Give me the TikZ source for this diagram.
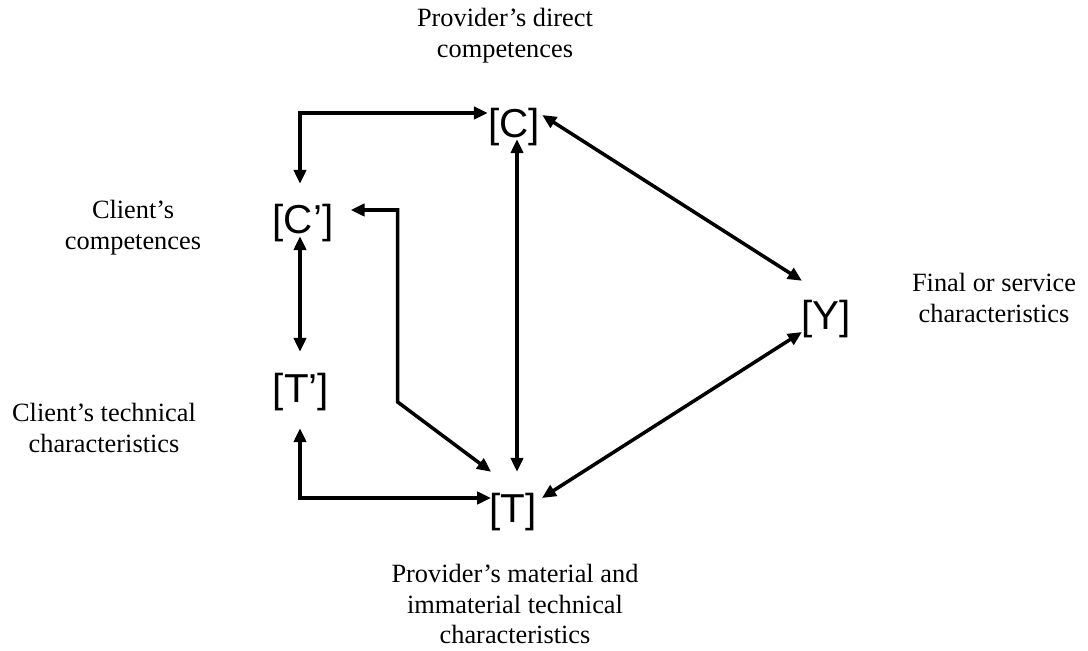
\documentclass[tikz,border=0pt]{standalone}
\usepackage{fontspec}
\setmainfont{Liberation Serif}
\newfontfamily\arialfont{Liberation Sans}
\usetikzlibrary{arrows.meta,calc}

\tikzstyle{charnode} = [inner sep=0pt, font=\arialfont\fontsize{23}{25}\selectfont]
\tikzstyle{caption} = [align=center, font=\fontsize{15}{17.5}\selectfont]
\tikzstyle{link} = [line width=2pt, {Triangle[length=8pt,width=7pt]}-{Triangle[length=8pt,width=7pt]}]

\begin{document}
\begin{tikzpicture}[x=0.02cm, y=-0.02cm]
	\useasboundingbox (0,0) rectangle (1088,651);

	% characteristics and competences
	\node [charnode] (c) at (514,127) {[C]};
	\node [charnode] (cp) at (303,223) {[C’]};
	\node [charnode] (y) at (826,319) {[Y]};
	\node [charnode] (tp) at (301,392) {[T’]};
	\node [charnode] (t) at (513,512) {[T]};

	% captions
	\node [caption] (capc) at (505,36) {Provider’s direct\\competences};
	\node [caption] (capcp) at (133,228) {Client’s\\competences};
	\node [caption] (capy) at (994,298) {Final or service\\characteristics};
	\node [caption] (captp) at (104,428) {Client’s technical\\characteristics};
	\node [caption] (capt) at (515,604) {Provider’s material and\\immaterial technical\\characteristics};

	% links
	\draw [link] ($(c.west)+(0,-14)$) -| ($(cp.north)+(-3,-20)$);
	\draw [link] ($(cp.south)+(-3,-6)$) -- ($(tp.north)+(-1,-21)$);
	\draw [link] ($(tp.south)+(-1,17)$) |- ($(t.west)+(2,-14)$);
	\draw [link] ($(cp.east)+(17,-13)$) -- ++(47,0) -- ++(0,192) -- ($(t.north west)+(2,-21)$);
	\draw [link] ($(c.south)+(3,-7)$) -- ($(t.north)+(4,-21)$);
	\draw [link] ($(c.east)+(2,-12)$) -- ($(y.north west)+(1,-19)$);
	\draw [link] ($(t.east)+(5,-14)$) -- ($(y.west)+(1,13)$);
\end{tikzpicture}
\end{document}
